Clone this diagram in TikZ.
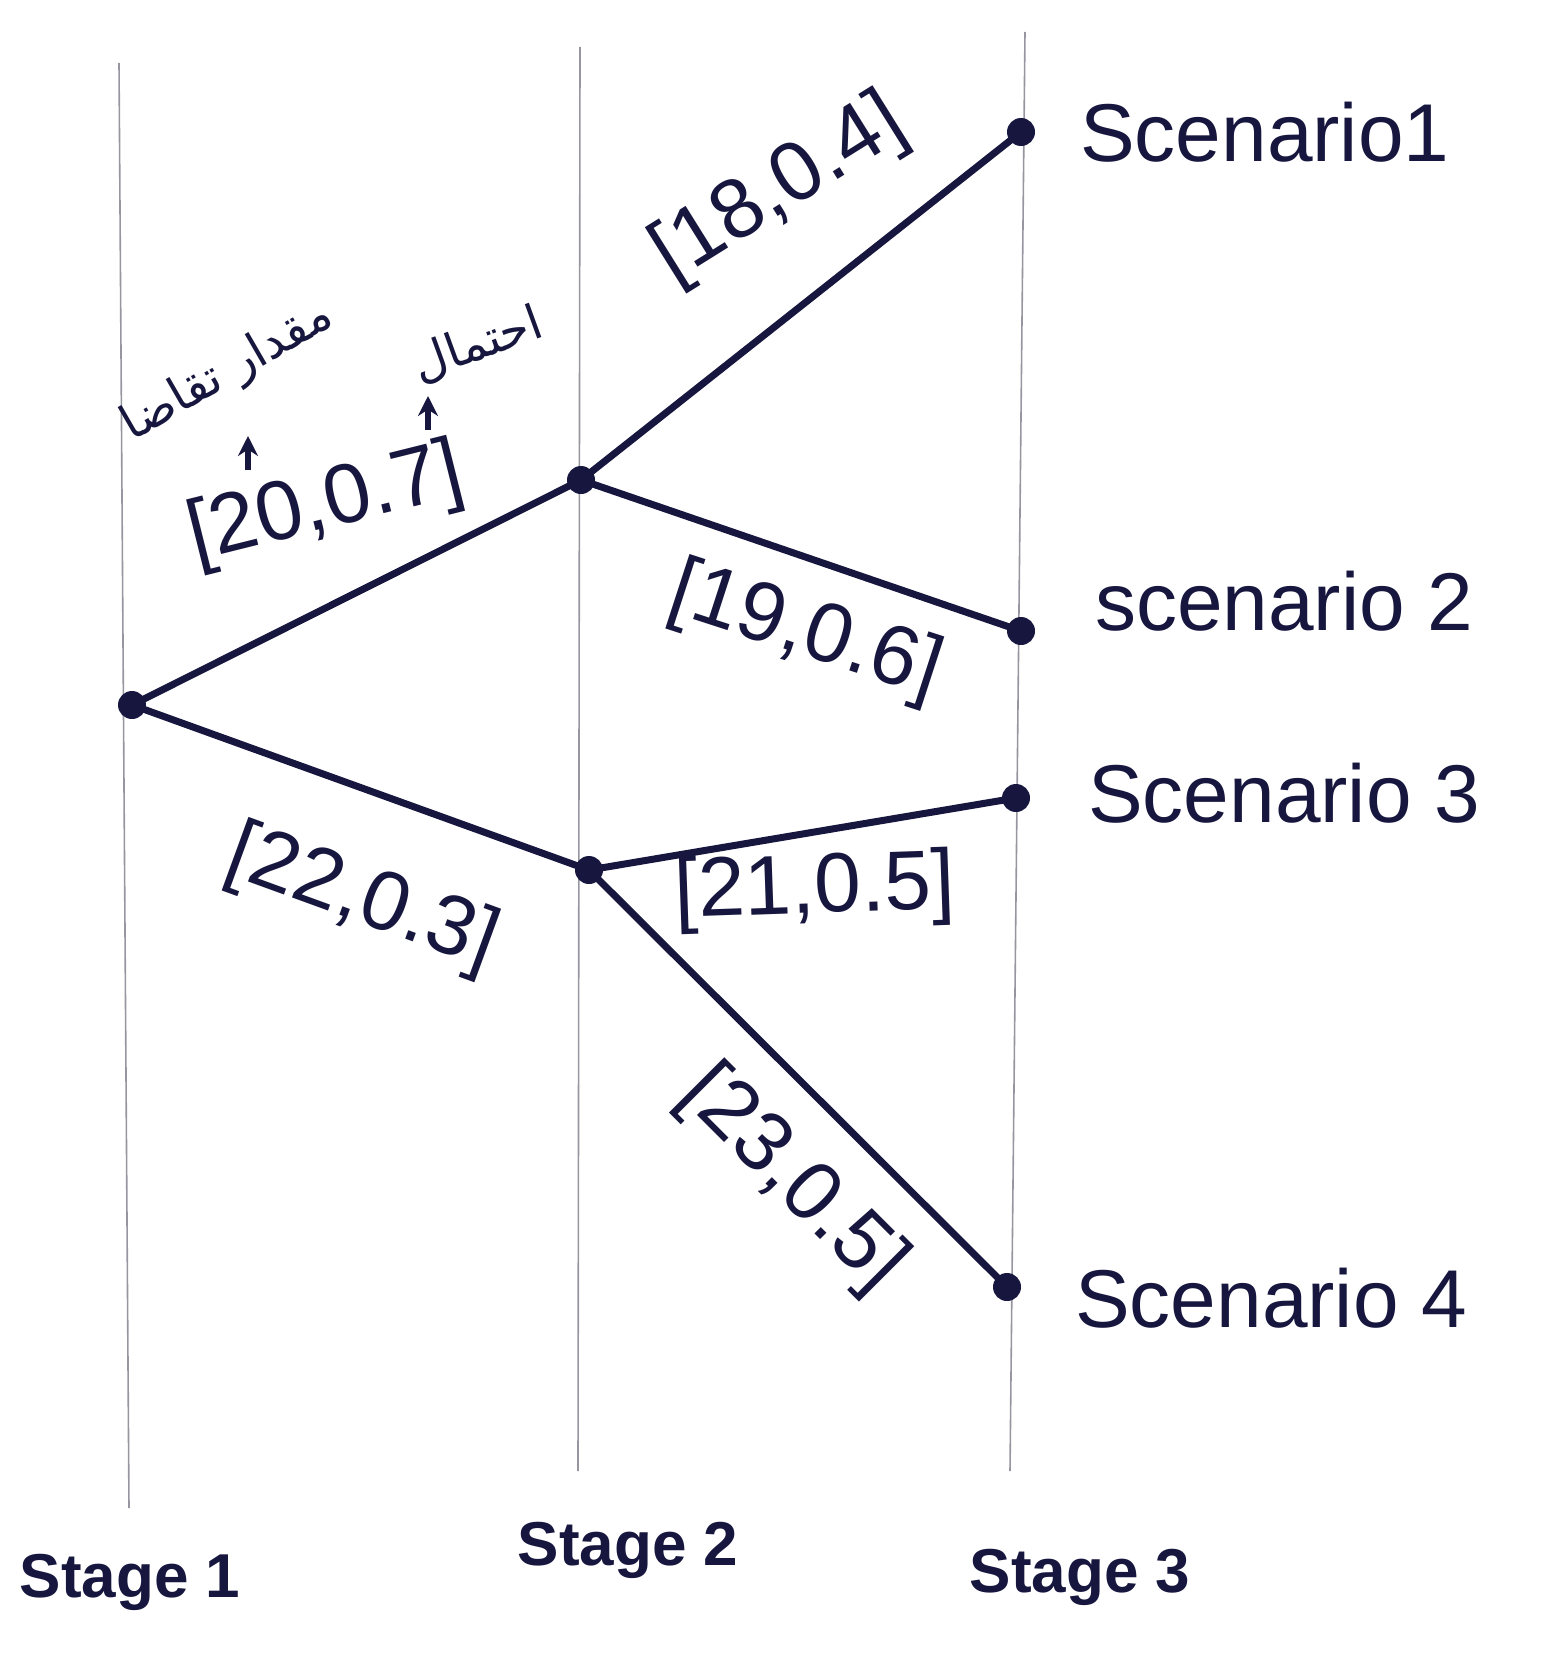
\documentclass[tikz,border=0pt]{standalone}
\usepackage{fontspec}
\usetikzlibrary{arrows.meta}
\setmainfont{Liberation Sans}
\newfontfamily\arabicfont[Script=Arabic]{DejaVu Sans}
\TeXXeTstate=1
\definecolor{ink}{RGB}{22,22,62}
\definecolor{guide}{RGB}{150,150,160}
\begin{document}
\begin{tikzpicture}[x=1pt,y=-1pt,
  dot/.style={circle,fill=ink,inner sep=0pt,minimum size=28pt},
  edge/.style={draw=ink,line width=7pt,line cap=round},
  guideline/.style={draw=guide,line width=1.6pt},
  lbl/.style={text=ink,font=\fontsize{84}{90}\selectfont,inner sep=0pt},
  scen/.style={text=ink,font=\fontsize{82}{90}\selectfont,inner sep=0pt,anchor=west},
  stagelbl/.style={text=ink,font=\fontsize{62}{70}\selectfont\bfseries,inner sep=0pt},
  fa/.style={text=ink,font=\arabicfont\fontsize{48}{54}\selectfont,inner sep=0pt},
  uparrow/.style={draw=ink,line width=6pt,-{Stealth[length=20pt,width=20pt]}}
]
\useasboundingbox (0,0) rectangle (1542,1654);
% stage guide lines
\coordinate (g1t) at (119,63);  \coordinate (g1b) at (129,1508);
\coordinate (g2t) at (580,47);  \coordinate (g2b) at (578,1471);
\coordinate (g3t) at (1025,32); \coordinate (g3b) at (1010,1471);
\draw[guideline] (g1t) -- (g1b);
\draw[guideline] (g2t) -- (g2b);
\draw[guideline] (g3t) -- (g3b);
% nodes
\node[dot] (r) at (132,705) {};
\node[dot] (a) at (581,480) {};
\node[dot] (b) at (589,870) {};
\node[dot] (s1) at (1021,132) {};
\node[dot] (s2) at (1021,631) {};
\node[dot] (s3) at (1016,798) {};
\node[dot] (s4) at (1007,1287) {};
% edges
\draw[edge] (r.center) -- (a.center);
\draw[edge] (r.center) -- (b.center);
\draw[edge] (a.center) -- (s1.center);
\draw[edge] (a.center) -- (s2.center);
\draw[edge] (b.center) -- (s3.center);
\draw[edge] (b.center) -- (s4.center);
% edge labels
\node[lbl,rotate=14] (l1) at (326,506) {[20,0.7]};
\node[lbl,rotate=32] (l2) at (780,190) {[18,0.4]};
\node[lbl,rotate=-18] (l3) at (805,633) {[19,0.6]};
\node[lbl,rotate=-20] (l4) at (362,900) {[22,0.3]};
\node[lbl,rotate=2] (l5) at (815,891) {[21,0.5]};
\node[lbl,rotate=-45] (l6) at (792,1180) {[23,0.5]};
% scenario labels
\node[scen] (t1) at (1080,132) {Scenario1};
\node[scen] (t2) at (1095,601) {scenario 2};
\node[scen] (t3) at (1088,793) {Scenario 3};
\node[scen] (t4) at (1075,1298) {Scenario 4};
% stage labels
\node[stagelbl] (st1) at (130,1582) {Stage 1};
\node[stagelbl] (st2) at (628,1550) {Stage 2};
\node[stagelbl] (st3) at (1080,1577) {Stage 3};
% Persian annotations
\node[fa,rotate=30] (f1) at (228,372) {\beginR مقدار تقاضا\endR};
\node[fa,rotate=20] (f2) at (478,345) {\beginR احتمال\endR};
\coordinate (a1s) at (248,470); \coordinate (a1e) at (248,436);
\coordinate (a2s) at (428,430); \coordinate (a2e) at (428,396);
\draw[uparrow] (a1s) -- (a1e);
\draw[uparrow] (a2s) -- (a2e);
\end{tikzpicture}
\end{document}
